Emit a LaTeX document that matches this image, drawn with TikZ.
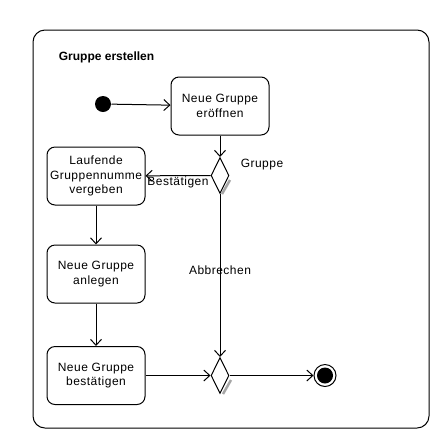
\documentclass[tikz,border=0pt]{standalone}
\usepackage{fontspec}
\setmainfont{Liberation Sans}
\usetikzlibrary{arrows.meta,shapes.geometric}

\begin{document}
\begin{tikzpicture}
    [
        x = 1pt, y = -1pt, line width = 1pt,
        every node/.append style = {font = \fontsize{12}{14.5}\selectfont\addfontfeatures{LetterSpace = 4}},
        action/.style = {draw, rounded corners = 8pt, minimum width = 98pt, minimum height = 58pt, align = center, inner sep = 1pt},
        decision/.style = {draw, diamond, aspect = 0.5, fill = white, minimum width = 18pt, minimum height = 36pt, inner sep = 0},
        flow/.style = {-{Straight Barb[length = 6pt, width = 11pt]}},
        shadowline/.style = {gray!70, line width = 2.5pt}]

    \useasboundingbox (0, 0) rectangle (443, 440);
    \draw [rounded corners = 12pt] (33, 30) rectangle (429, 428);
    \node [anchor = west, font = \fontsize{12}{14}\selectfont\bfseries] (title) at (55, 57) {Gruppe erstellen};

    \node [circle, fill, minimum size = 16pt, inner sep = 0] (start) at (103, 104) {};
    \node [action] (open) at (220, 106) {Neue Gruppe\\eröffnen};
    \node [action] (number) at (96, 176) {Laufende\\Gruppennumme\\vergeben};
    \node [action] (create) at (96, 274) {Neue Gruppe\\anlegen};
    \node [action] (confirm) at (96, 375.5) {Neue Gruppe\\bestätigen};

    % decisions with their grey shadow
    \draw [shadowline] (230, 180) -- (222, 194);
    \node [decision] (split) at (220, 175.5) {};
    \draw [shadowline] (231, 380) -- (223, 394);
    \node [decision] (merge) at (220, 375.5) {};

    \node [circle, draw, minimum size = 22pt, inner sep = 0] (finish) at (325, 375.5) {};
    \node [circle, fill, minimum size = 16pt, inner sep = 0] (finishdot) at (finish) {};

    \node (guard) at (262, 165) {Gruppe};

    \draw [flow] (start) -- (open);
    \draw [flow] (open) -- (split);
    \draw [flow] (split) -- (number) node [midway, below = 1pt, inner sep = 0] {Bestätigen};
    \draw [flow] (split) -- (merge) node [pos = 0.47, inner sep = 0] {Abbrechen};
    \draw [flow] (number) -- (create);
    \draw [flow] (create) -- (confirm);
    \draw [flow] (confirm) -- (merge);
    \draw [flow] (merge) -- (finish);

\end{tikzpicture}
\end{document}
